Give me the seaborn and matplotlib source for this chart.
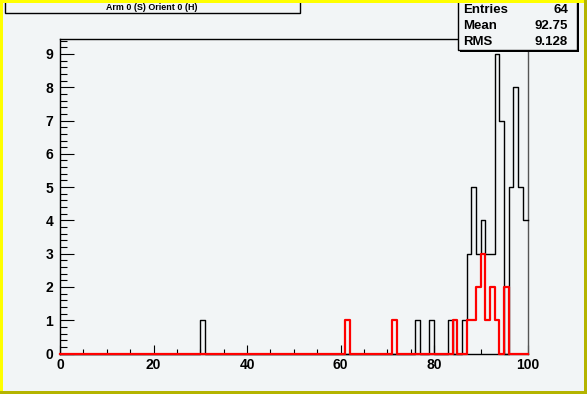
import numpy as np
import pandas as pd
import matplotlib
matplotlib.use("Agg")
import matplotlib.pyplot as plt
import seaborn as sns
from matplotlib.patches import Rectangle
from matplotlib.ticker import MultipleLocator, FixedLocator

# ---------------- data ----------------
black_bins = [30, 76, 79, 83, 86, 87, 88, 89, 90, 91, 92, 93, 94, 96, 97, 98, 99]
black_counts = [1, 1, 1, 1, 1, 3, 5, 3, 4, 3, 3, 9, 7, 5, 8, 5, 4]
red_bins = [61, 71, 84, 87, 88, 89, 90, 91, 92, 93, 95]
red_counts = [1, 1, 1, 1, 1, 2, 3, 1, 2, 1, 2]
x_ticks = [0, 20, 40, 60, 80, 100]
y_ticks = [0, 1, 2, 3, 4, 5, 6, 7, 8, 9]
title = "Arm 0 (S) Orient 0 (H)"
stats_labels = ["Entries", "Mean", "RMS"]
stats_values = ["64", "92.75", "9.128"]
bin_edges = list(range(0, 101))

black_df = pd.DataFrame({"x": np.array(black_bins) + 0.5, "w": black_counts})
red_df = pd.DataFrame({"x": np.array(red_bins) + 0.5, "w": red_counts})

# ---------------- figure ----------------
W, H = 587, 394
BG = "#f2f5f6"
plt.rcParams["font.family"] = ["Liberation Sans", "DejaVu Sans"]
plt.rcParams["font.weight"] = "bold"

fig = plt.figure(figsize=(W / 100, H / 100), dpi=100, facecolor=BG)


def fx(px):
    return px / W


def fy(py):
    return 1 - py / H


x0, x1, y0, y1 = 60.0, 527.5, 39.0, 353.5
ax = fig.add_axes([fx(x0), fy(y1), (x1 - x0) / W, (y1 - y0) / H])
ax.set_facecolor(BG)

sns.histplot(data=black_df, x="x", weights="w", bins=bin_edges, element="step",
             fill=False, color="black", linewidth=1.0, ax=ax)
sns.histplot(data=red_df, x="x", weights="w", bins=bin_edges, element="step",
             fill=False, color="#ff0000", linewidth=1.6, ax=ax)
lines = ax.get_lines()
for ln in lines:
    ln.set_clip_on(False)
lines[0].set_zorder(3)
lines[1].set_zorder(4)

ax.set_xlim(0, 100)
ax.set_ylim(0, 9.45)
ax.set_xlabel("")
ax.set_ylabel("")
ax.xaxis.set_major_locator(FixedLocator(x_ticks))
ax.yaxis.set_major_locator(FixedLocator(y_ticks))
ax.xaxis.set_minor_locator(MultipleLocator(5))
ax.yaxis.set_minor_locator(MultipleLocator(0.2))
ax.set_xticklabels([str(v) for v in x_ticks])
ax.set_yticklabels([str(v) for v in y_ticks])
ax.tick_params(axis="x", which="major", direction="in", length=6.8, width=0.8,
               pad=3.0, labelsize=10, colors="black")
ax.tick_params(axis="x", which="minor", direction="in", length=3.4, width=0.8)
ax.tick_params(axis="y", which="major", direction="in", length=10.0, width=0.8,
               pad=5.0, labelsize=10)
ax.tick_params(axis="y", which="minor", direction="in", length=5.0, width=0.8)
for lab in ax.get_xticklabels() + ax.get_yticklabels():
    lab.set_fontweight("bold")
for s in ax.spines.values():
    s.set_color("black")
    s.set_linewidth(1.0)
ax.spines["right"].set_color("#555555")


def box(px0, py0, px1, py1, shadow=2):
    fig.add_artist(Rectangle((fx(px0 + shadow), fy(py1 + shadow)), (px1 - px0) / W,
                             (py1 - py0) / H, transform=fig.transFigure,
                             facecolor="black", edgecolor="none", zorder=10))
    fig.add_artist(Rectangle((fx(px0), fy(py1)), (px1 - px0) / W, (py1 - py0) / H,
                             transform=fig.transFigure, facecolor=BG,
                             edgecolor="black", linewidth=1.0, zorder=11))


# title box
box(5, -5, 300, 12.5, shadow=1.5)
fig.text(fx(152), fy(7.3), title, ha="center", va="center", fontsize=6.4,
         fontweight="bold", zorder=12)

# stats box
box(458, -5, 577, 49.5, shadow=2)
rows_y = [12.7, 29.0, 45.3]
for lab, val, yy in zip(stats_labels, stats_values, rows_y):
    fig.text(fx(463), fy(yy), lab, ha="left", va="baseline", fontsize=9.5,
             fontweight="bold", zorder=12)
    fig.text(fx(568), fy(yy), val, ha="right", va="baseline", fontsize=9.5,
             fontweight="bold", zorder=12)

# canvas highlight border
bw = 3
fig.add_artist(Rectangle((0, 0), fx(bw), 1, transform=fig.transFigure,
                         facecolor="#ffff00", edgecolor="none", zorder=20))
fig.add_artist(Rectangle((0, fy(bw)), 1, bw / H, transform=fig.transFigure,
                         facecolor="#ffff00", edgecolor="none", zorder=20))
fig.add_artist(Rectangle((fx(W - bw), 0), fx(bw), 1, transform=fig.transFigure,
                         facecolor="#b4b400", edgecolor="none", zorder=21))
fig.add_artist(Rectangle((0, 0), 1, bw / H, transform=fig.transFigure,
                         facecolor="#b4b400", edgecolor="none", zorder=21))

fig.savefig("out.png", dpi=100, facecolor=BG)
